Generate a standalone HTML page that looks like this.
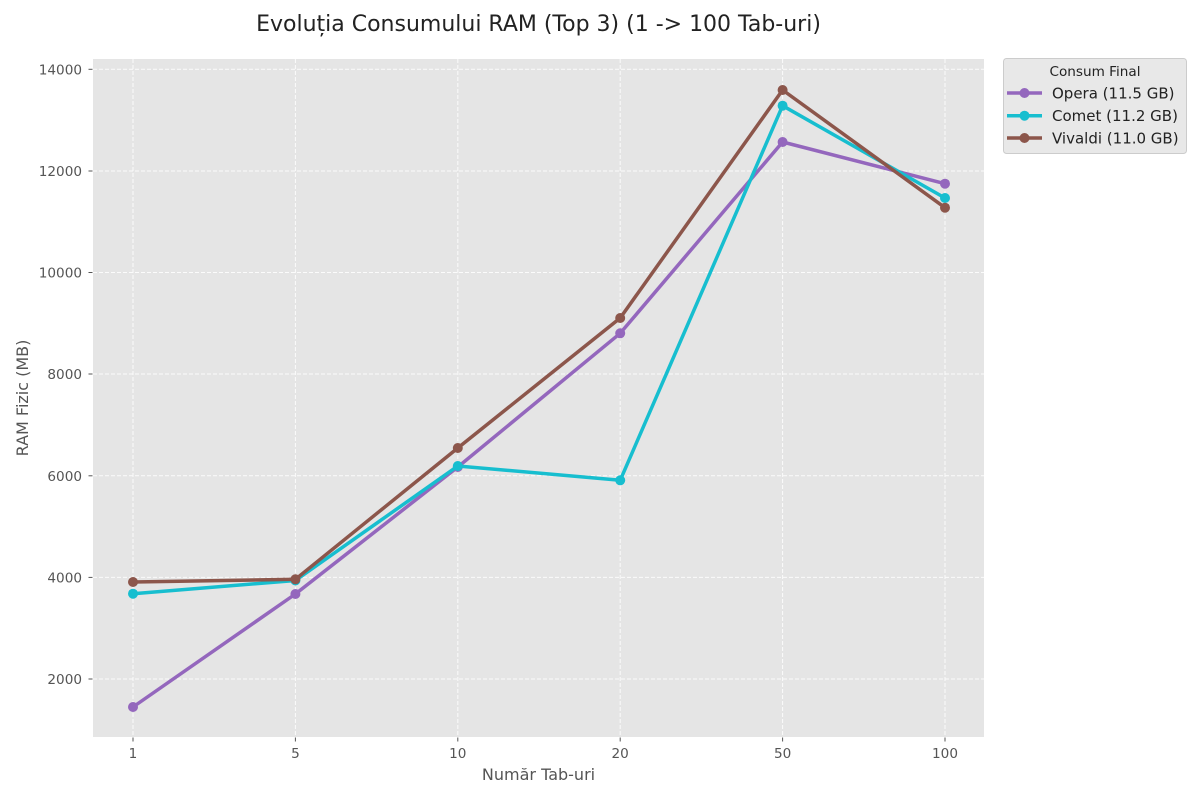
<!DOCTYPE html>
<html><head><meta charset="utf-8"><style>
html,body{margin:0;padding:0;background:#fff;}
svg{display:block;}
text{font-family:"DejaVu Sans","Liberation Sans",sans-serif;}
</style></head><body>
<svg width="1200" height="800" viewBox="0 0 1200 800" xmlns="http://www.w3.org/2000/svg">
<rect x="0" y="0" width="1200" height="800" fill="#fff"/>
<text x="538.5" y="31" font-size="22" text-anchor="middle" fill="#222">Evoluția Consumului RAM (Top 3) (1 -&gt; 100 Tab-uri)</text>
<rect x="93" y="59" width="891" height="678" fill="#E5E5E5"/>
<g stroke="#ffffff" stroke-width="1" stroke-dasharray="4,2" opacity="0.85">
<line x1="93" x2="984" y1="69.3" y2="69.3"/>
<line x1="93" x2="984" y1="171" y2="171"/>
<line x1="93" x2="984" y1="272.5" y2="272.5"/>
<line x1="93" x2="984" y1="374" y2="374"/>
<line x1="93" x2="984" y1="475.8" y2="475.8"/>
<line x1="93" x2="984" y1="577.4" y2="577.4"/>
<line x1="93" x2="984" y1="679" y2="679"/>
<line y1="59" y2="737" x1="133" x2="133"/>
<line y1="59" y2="737" x1="295.4" x2="295.4"/>
<line y1="59" y2="737" x1="457.8" x2="457.8"/>
<line y1="59" y2="737" x1="620.2" x2="620.2"/>
<line y1="59" y2="737" x1="782.6" x2="782.6"/>
<line y1="59" y2="737" x1="945" x2="945"/>
</g>
<g stroke="#555" stroke-width="1">
<line x1="88.5" x2="92.5" y1="69.3" y2="69.3"/>
<line x1="88.5" x2="92.5" y1="171" y2="171"/>
<line x1="88.5" x2="92.5" y1="272.5" y2="272.5"/>
<line x1="88.5" x2="92.5" y1="374" y2="374"/>
<line x1="88.5" x2="92.5" y1="475.8" y2="475.8"/>
<line x1="88.5" x2="92.5" y1="577.4" y2="577.4"/>
<line x1="88.5" x2="92.5" y1="679" y2="679"/>
<line y1="737.5" y2="741.5" x1="133" x2="133"/>
<line y1="737.5" y2="741.5" x1="295.4" x2="295.4"/>
<line y1="737.5" y2="741.5" x1="457.8" x2="457.8"/>
<line y1="737.5" y2="741.5" x1="620.2" x2="620.2"/>
<line y1="737.5" y2="741.5" x1="782.6" x2="782.6"/>
<line y1="737.5" y2="741.5" x1="945" x2="945"/>
</g>
<g font-size="13.6" fill="#555" text-anchor="end">
<text x="82" y="74.3">14000</text>
<text x="82" y="176">12000</text>
<text x="82" y="277.5">10000</text>
<text x="82" y="379">8000</text>
<text x="82" y="480.8">6000</text>
<text x="82" y="582.4">4000</text>
<text x="82" y="684">2000</text>
</g>
<g font-size="13.6" fill="#555" text-anchor="middle">
<text x="133" y="758">1</text>
<text x="295.4" y="758">5</text>
<text x="457.8" y="758">10</text>
<text x="620.2" y="758">20</text>
<text x="782.6" y="758">50</text>
<text x="945" y="758">100</text>
</g>
<text x="538.5" y="780" font-size="16" fill="#555" text-anchor="middle">Număr Tab-uri</text>
<text transform="translate(28,398) rotate(-90)" font-size="16" fill="#555" text-anchor="middle">RAM Fizic (MB)</text>

<polyline fill="none" stroke-width="3.5" stroke-linejoin="round" stroke-linecap="round" stroke="#9467bd" points="133,707 295.4,594 457.8,467 620.2,333.3 782.6,142 945,183.7"/>
<g fill="#9467bd">
<circle cx="133" cy="707" r="5"/><circle cx="295.4" cy="594" r="5"/><circle cx="457.8" cy="467" r="5"/><circle cx="620.2" cy="333.3" r="5"/><circle cx="782.6" cy="142" r="5"/><circle cx="945" cy="183.7" r="5"/>
</g>
<polyline fill="none" stroke-width="3.5" stroke-linejoin="round" stroke="#17becf" points="133,593.7 295.4,580.5 457.8,466 620.2,480.3 782.6,105.7 945,198"/>
<g fill="#17becf">
<circle cx="133" cy="593.7" r="5"/><circle cx="295.4" cy="580.5" r="5"/><circle cx="457.8" cy="466" r="5"/><circle cx="620.2" cy="480.3" r="5"/><circle cx="782.6" cy="105.7" r="5"/><circle cx="945" cy="198" r="5"/>
</g>
<polyline fill="none" stroke-width="3.5" stroke-linejoin="round" stroke="#8c564b" points="133,582 295.4,579.3 457.8,448 620.2,318 782.6,90 945,207.7"/>
<g fill="#8c564b">
<circle cx="133" cy="582" r="5"/><circle cx="295.4" cy="579.3" r="5"/><circle cx="457.8" cy="448" r="5"/><circle cx="620.2" cy="318" r="5"/><circle cx="782.6" cy="90" r="5"/><circle cx="945" cy="207.7" r="5"/>
</g>

<rect x="1003.5" y="58.5" width="183" height="95" rx="3" fill="#e8e8e8" stroke="#cccccc" stroke-width="1"/>
<text x="1095" y="76" font-size="13.6" fill="#222" text-anchor="middle">Consum Final</text>
<line x1="1007" x2="1042" y1="93" y2="93" stroke="#9467bd" stroke-width="3.5"/>
<circle cx="1024.5" cy="93" r="5" fill="#9467bd"/>
<text x="1052" y="98.3" font-size="15" fill="#222">Opera (11.5 GB)</text>
<line x1="1007" x2="1042" y1="115.7" y2="115.7" stroke="#17becf" stroke-width="3.5"/>
<circle cx="1024.5" cy="115.7" r="5" fill="#17becf"/>
<text x="1052" y="121" font-size="15" fill="#222">Comet (11.2 GB)</text>
<line x1="1007" x2="1042" y1="138" y2="138" stroke="#8c564b" stroke-width="3.5"/>
<circle cx="1024.5" cy="138" r="5" fill="#8c564b"/>
<text x="1052" y="143.3" font-size="15" fill="#222">Vivaldi (11.0 GB)</text>
</svg>
</body></html>
